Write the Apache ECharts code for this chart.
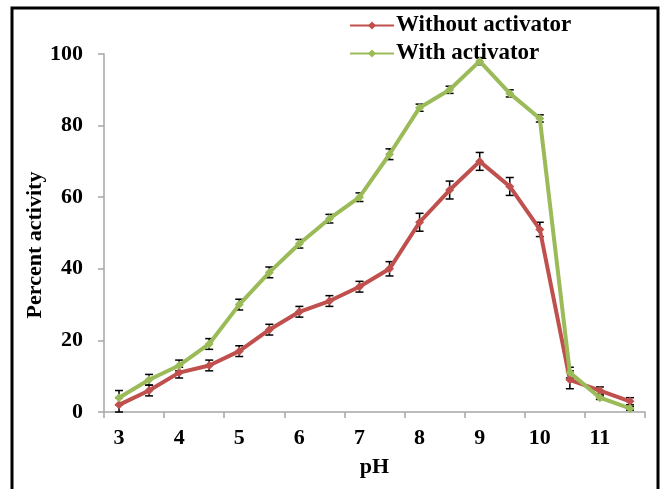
<!DOCTYPE html>
<html>
<head>
<meta charset="utf-8">
<script src="https://cdn.jsdelivr.net/npm/echarts@6/dist/echarts.min.js"></script>
<style>
html,body{margin:0;padding:0;background:#fff;}
#chart{width:662px;height:489px;}
</style>
</head>
<body>
<div id="chart"></div>
<script>
var phCategories = ['3','3.5','4','4.5','5','5.5','6','6.5','7','7.5','8','8.5','9','9.5','10','10.5','11','11.5'];
var withoutActivator = [2, 6, 11, 13, 17, 23, 28, 31, 35, 40, 53, 62, 70, 63, 51, 9, 6, 3];
var withoutErr = [2, 1.5, 1.5, 1.5, 1.5, 1.5, 1.5, 1.5, 1.5, 2, 2.5, 2.5, 2.5, 2.5, 2, 2.5, 1, 1];
var withActivator = [4, 9, 13, 19, 30, 39, 47, 54, 60, 72, 85, 90, 98, 89, 82, 11, 4, 1];
var withErr = [2, 1.5, 1.5, 1.5, 1.5, 1.5, 1.2, 1.2, 1.2, 1.5, 1, 1, 1, 1, 1, 1.5, 0.5, 0.5];
var yTicks = [0, 20, 40, 60, 80, 100];

var RED = '#C0504D';
var GREEN = '#9BBB59';
var FONT = '"Liberation Serif", "Times New Roman", serif';

function errSeries(vals, errs, z) {
  var data = vals.map(function (v, i) { return [i, v - errs[i], v + errs[i]]; });
  return {
    type: 'custom',
    z: z,
    silent: true,
    renderItem: function (params, api) {
      var lo = api.coord([api.value(0), api.value(1)]);
      var hi = api.coord([api.value(0), api.value(2)]);
      var hw = 4;
      var st = { stroke: '#000', lineWidth: 1.5 };
      return {
        type: 'group',
        children: [
          { type: 'line', shape: { x1: lo[0], y1: lo[1], x2: hi[0], y2: hi[1] }, style: st },
          { type: 'line', shape: { x1: lo[0] - hw, y1: lo[1], x2: lo[0] + hw, y2: lo[1] }, style: st },
          { type: 'line', shape: { x1: hi[0] - hw, y1: hi[1], x2: hi[0] + hw, y2: hi[1] }, style: st }
        ]
      };
    },
    encode: { x: 0, y: [1, 2] },
    data: data
  };
}

var chart = echarts.init(document.getElementById('chart'), null, { renderer: 'canvas' });
chart.setOption({
  backgroundColor: '#fff',
  animation: false,
  grid: { left: 104, right: 17, top: 54, bottom: 77, containLabel: false },
  legend: {
    orient: 'vertical',
    left: 344,
    top: 9,
    itemWidth: 44,
    itemHeight: 10,
    itemGap: 5,
    textStyle: { fontFamily: FONT, fontWeight: 'bold', fontSize: 23, color: '#000', padding: [0, 0, 0, -3] },
    data: ['Without activator', 'With activator']
  },
  xAxis: {
    type: 'category',
    data: phCategories,
    boundaryGap: true,
    name: 'pH',
    nameLocation: 'middle',
    nameGap: 44,
    nameMoveOverlap: false,
    nameTextStyle: { fontFamily: FONT, fontWeight: 'bold', fontSize: 22, color: '#000' },
    axisLine: { lineStyle: { color: '#A6A6A6', width: 1.5 } },
    axisTick: { show: true, interval: 1, length: 6, alignWithLabel: false, lineStyle: { color: '#A6A6A6', width: 1.5 } },
    axisLabel: { interval: 1, margin: 15, fontFamily: FONT, fontWeight: 'bold', fontSize: 22, color: '#000' },
    splitLine: { show: false }
  },
  yAxis: {
    type: 'value',
    min: yTicks[0],
    max: yTicks[yTicks.length - 1],
    interval: 20,
    name: 'Percent activity',
    nameLocation: 'middle',
    nameGap: 58,
    nameMoveOverlap: false,
    nameTextStyle: { fontFamily: FONT, fontWeight: 'bold', fontSize: 22, color: '#000', padding: [0, 0, 0, -24] },
    axisLine: { show: true, lineStyle: { color: '#A6A6A6', width: 1.5 } },
    axisTick: { show: true, length: 6, lineStyle: { color: '#A6A6A6', width: 1.5 } },
    axisLabel: { margin: 21, fontFamily: FONT, fontWeight: 'bold', fontSize: 22, color: '#000' },
    splitLine: { show: false }
  },
  graphic: [{
    type: 'rect',
    shape: { x: 12, y: 8, width: 646, height: 500 },
    style: { fill: 'none', stroke: '#000', lineWidth: 3 },
    silent: true
  }],
  series: [
    {
      name: 'Without activator',
      type: 'line',
      data: withoutActivator,
      symbol: 'diamond',
      symbolSize: 9,
      z: 3,
      itemStyle: { color: RED },
      lineStyle: { color: RED, width: 4 }
    },
    {
      name: 'With activator',
      type: 'line',
      data: withActivator,
      symbol: 'diamond',
      symbolSize: 9,
      z: 4,
      itemStyle: { color: GREEN },
      lineStyle: { color: GREEN, width: 4 }
    },
    errSeries(withoutActivator, withoutErr, 2),
    errSeries(withActivator, withErr, 2)
  ]
});
</script>
</body>
</html>
